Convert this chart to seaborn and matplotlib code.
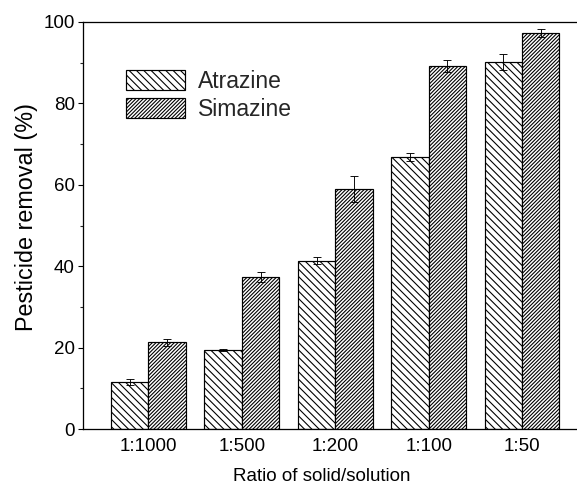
import matplotlib
matplotlib.use("Agg")
import matplotlib.pyplot as plt
import seaborn as sns
import pandas as pd
import numpy as np
from matplotlib.patches import Patch

categories = ["1:1000", "1:500", "1:200", "1:100", "1:50"]
atrazine = [11.5, 19.4, 41.4, 66.8, 90.2]
atrazine_err = [0.8, 0.2, 0.9, 1.0, 2.0]
simazine = [21.3, 37.3, 59.0, 89.2, 97.3]
simazine_err = [0.8, 1.3, 3.2, 1.5, 1.0]
series = ["Atrazine", "Simazine"]

sns.set_theme(style="white")
plt.rcParams["font.family"] = ["Liberation Sans", "DejaVu Sans"]
plt.rcParams["hatch.linewidth"] = 1.2
plt.rcParams["hatch.color"] = "black"

df = pd.DataFrame({
    "Ratio": categories * 2,
    "Pesticide": [series[0]] * 5 + [series[1]] * 5,
    "Removal": atrazine + simazine,
})

DPI = 66
fig = plt.figure(figsize=(577 / DPI, 485 / DPI), dpi=DPI)
ax = fig.add_axes([83 / 577, 1 - 429 / 485, (587.5 - 83) / 577, (429 - 22) / 485])

sns.barplot(data=df, x="Ratio", y="Removal", hue="Pesticide", order=categories,
            hue_order=series, palette=["white", "white"], edgecolor="black",
            linewidth=1.3, width=0.8, errorbar=None, legend=False, ax=ax)

hatches = {"Atrazine": "\\\\\\", "Simazine": "//////"}
bars = [p for p in ax.patches]
errs = atrazine_err + simazine_err
vals = atrazine + simazine
for i, p in enumerate(bars[:10]):
    s = series[0] if i < 5 else series[1]
    p.set_hatch(hatches[s])
    p.set_facecolor("white")
    p.set_edgecolor("black")
    cx = p.get_x() + p.get_width() / 2
    ax.errorbar(cx, vals[i], yerr=errs[i], color="black", capsize=4.8,
                elinewidth=1.0, capthick=1.0, fmt="none")

ax.set_xlim(-0.7, 4.7)
ax.set_ylim(0, 100)
ax.set_yticks([0, 20, 40, 60, 80, 100])
ax.set_yticks([10, 30, 50, 70, 90], minor=True)
ax.tick_params(axis="y", which="major", direction="out", length=6, width=1.2,
               labelsize=20.5, left=True, pad=3, colors="black")
ax.tick_params(axis="y", which="minor", direction="out", length=3.5, width=1.2, left=True)
ax.tick_params(axis="x", length=0, labelsize=20.5, pad=10, colors="black")
for sp in ax.spines.values():
    sp.set_linewidth(1.4)
    sp.set_color("black")

ax.set_xlabel("Ratio of solid/solution", fontsize=20.5, color="black")
ax.set_ylabel("Pesticide removal (%)", fontsize=25.5, color="black")
ax.xaxis.set_label_coords(0.474, -0.095)
ax.yaxis.set_label_coords(-0.089, 0.522)

handles = [Patch(facecolor="white", edgecolor="black", hatch=hatches[s], linewidth=1.3)
           for s in series]
ax.legend(handles, series, loc="upper left", bbox_to_anchor=(0.085, 0.882),
          frameon=False, fontsize=25, handlelength=2.6, handleheight=0.95,
          handletextpad=0.55, labelspacing=0.2, borderpad=0, borderaxespad=0)

fig.savefig("out.png", dpi=DPI)
